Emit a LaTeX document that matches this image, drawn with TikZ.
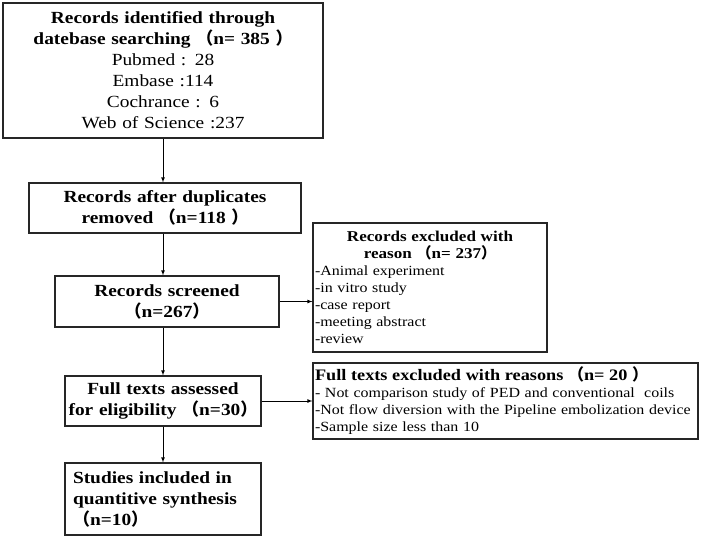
\documentclass[tikz,border=0pt]{standalone}
\usepackage{fontspec}
\setmainfont{Liberation Serif}[FakeStretch=1.14]
\newfontfamily\cjk{Noto Sans CJK SC}
\newcommand{\fwl}{{\cjk （}}
\newcommand{\fwr}{{\cjk ）}}
\usetikzlibrary{arrows}

\begin{document}
\begin{tikzpicture}[x=1pt,y=-1pt,
  box/.style={draw=black!85,line width=1.1pt,inner xsep=3pt,inner ysep=2pt,align=center,font=\fontsize{17}{21}\selectfont},
  sidebox/.style={box,align=left,inner xsep=2pt,font=\fontsize{14}{17}\selectfont},
  arr/.style={-latex,line width=0.8pt}]
  \useasboundingbox (0,0) rectangle (702,539);
  % main column
  \node[box,text width=314pt,minimum height=135pt] (ident) at (163,70.5)
    {\textbf{Records identified through}\\ \textbf{datebase searching \fwl n= 385 \fwr}\\
     Pubmed : 28\\ Embase :114\\ Cochrance : 6\\ Web of Science :237};
  \node[box,text width=266pt,minimum height=50pt] (dup) at (165,208)
    {\textbf{Records after duplicates}\\ \textbf{removed \fwl n=118 \fwr}};
  \node[box,text width=218pt,minimum height=51pt] (screen) at (167,301.5)
    {\textbf{Records screened}\\ \textbf{\fwl n=267\fwr}};
  \node[box,text width=190pt,minimum height=50pt] (full) at (163,401)
    {\textbf{Full texts assessed}\\ \textbf{for eligibility \fwl n=30\fwr}};
  \node[box,align=left,text width=190pt,minimum height=72pt,inner xsep=3pt] (incl) at (163,499)
    {\hspace{5pt}\textbf{Studies included in}\\ \hspace{5pt}\textbf{quantitive synthesis}\\ \hspace{5pt}\textbf{\fwl n=10\fwr}};
  % exclusions
  \node[sidebox,text width=230pt,minimum height=129pt] (excl) at (430,287.5)
    {{\centering\fontsize{15}{17}\selectfont\bfseries Records excluded with\\ reason \fwl n= 237\fwr\par}
     -Animal experiment\\ -in vitro study\\ -case report\\ -meeting abstract\\ -review};
  \node[sidebox,text width=381pt,minimum height=76pt] (fullex) at (505.5,401)
    {{\fontsize{16}{19}\selectfont\bfseries Full texts excluded with reasons \fwl n= 20 \fwr\par}
     - Not comparison study of PED and conventional\ \ coils\\
     -Not flow diversion with the Pipeline embolization device\\
     -Sample size less than 10};
  % arrows
  \draw[arr] (ident.south) -- (ident.south |- dup.north);
  \draw[arr] (dup.south -| ident) -- (screen.north -| ident);
  \draw[arr] (screen.south -| ident) -- (full.north);
  \draw[arr] (full.south) -- (incl.north);
  \draw[arr] (screen.east) -- (screen.east -| excl.west);
  \draw[arr] (full.east) -- (fullex.west);
\end{tikzpicture}
\end{document}
